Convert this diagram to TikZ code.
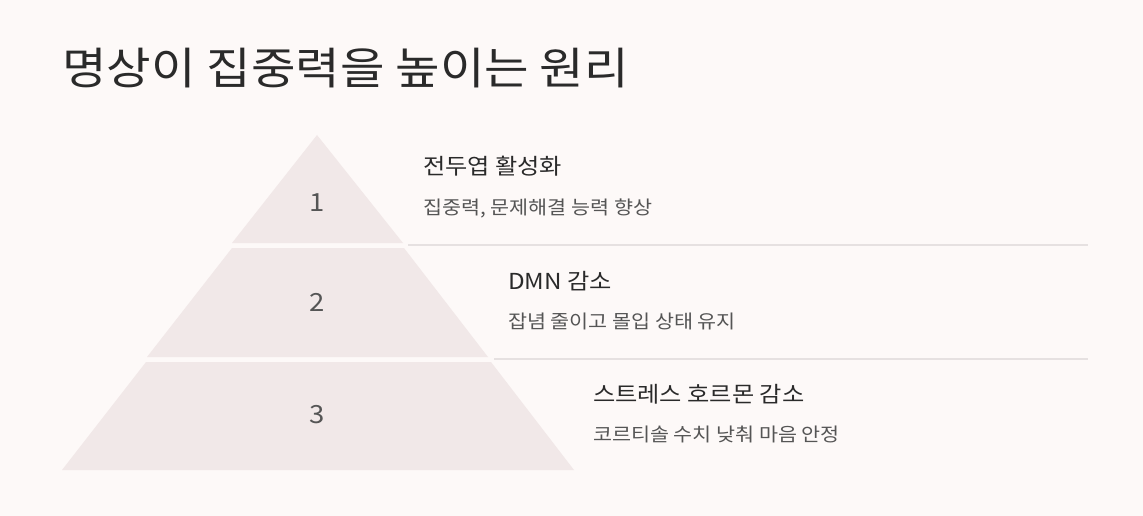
\documentclass[tikz,border=0pt]{standalone}
\usepackage{fontspec}
\setmainfont[FakeStretch=1.1]{Noto Sans CJK KR}
\usepackage{xcolor}
\usepackage{tikz}
\usetikzlibrary{positioning, calc}
\definecolor{bgpink}{HTML}{FDF9F8}
\definecolor{tierfill}{HTML}{F1E8E8}
\definecolor{rulegray}{HTML}{E6E1E1}
\definecolor{darktext}{HTML}{2A2A2A}
\definecolor{softtext}{HTML}{555555}
\tikzstyle{tier} = [fill=tierfill, draw=none]
\tikzstyle{tiernum} = [font=\fontsize{25}{30}\selectfont, text=darktext!80, inner sep=0pt]
\tikzstyle{titletext} = [anchor=base west, font=\fontsize{44}{50}\selectfont, text=darktext, inner sep=0pt]
\tikzstyle{heading} = [anchor=base west, font=\fontsize{22}{26}\selectfont, text=darktext, inner sep=0pt]
\tikzstyle{detail} = [anchor=base west, font=\fontsize{18.8}{22}\selectfont, text=softtext, inner sep=0pt]
\tikzstyle{divider} = [draw=rulegray, line width=1.6pt]

\begin{document}
\begin{tikzpicture}[x=1pt, y=-1pt]
    % Background
    \fill[bgpink] (0,0) rectangle (1143,516);

    % Title
    \node[titletext] (title) at (62,85) {명상이 집중력을 높이는 원리};

    % Pyramid tiers
    \fill[tier] (317,135) -- (403,243) -- (232,243) -- cycle;
    \fill[tier] (232,248) -- (404,248) -- (488,357) -- (147,357) -- cycle;
    \fill[tier] (146,362) -- (491,362) -- (574,470) -- (62,470) -- cycle;

    % Nodes
    \node[tiernum] (num1) at (317,203) {1};
    \node[tiernum] (num2) at (317,302) {2};
    \node[tiernum] (num3) at (317,415) {3};

    \node[heading] (head1) at (423,175) {전두엽 활성화};
    \node[detail] (note1) at (423,214) {집중력, 문제해결 능력 향상};
    \node[heading] (head2) at (508,289) {DMN 감소};
    \node[detail] (note2) at (508,328) {잡념 줄이고 몰입 상태 유지};
    \node[heading] (head3) at (593,402) {스트레스 호르몬 감소};
    \node[detail] (note3) at (593,441) {코르티솔 수치 낮춰 마음 안정};

    % Dividers
    \coordinate (rule1a) at (408,245);
    \coordinate (rule1b) at (1088,245);
    \coordinate (rule2a) at (494,359);
    \coordinate (rule2b) at (1088,359);
    \draw[divider] (rule1a) -- (rule1b);
    \draw[divider] (rule2a) -- (rule2b);
\end{tikzpicture}
\end{document}
